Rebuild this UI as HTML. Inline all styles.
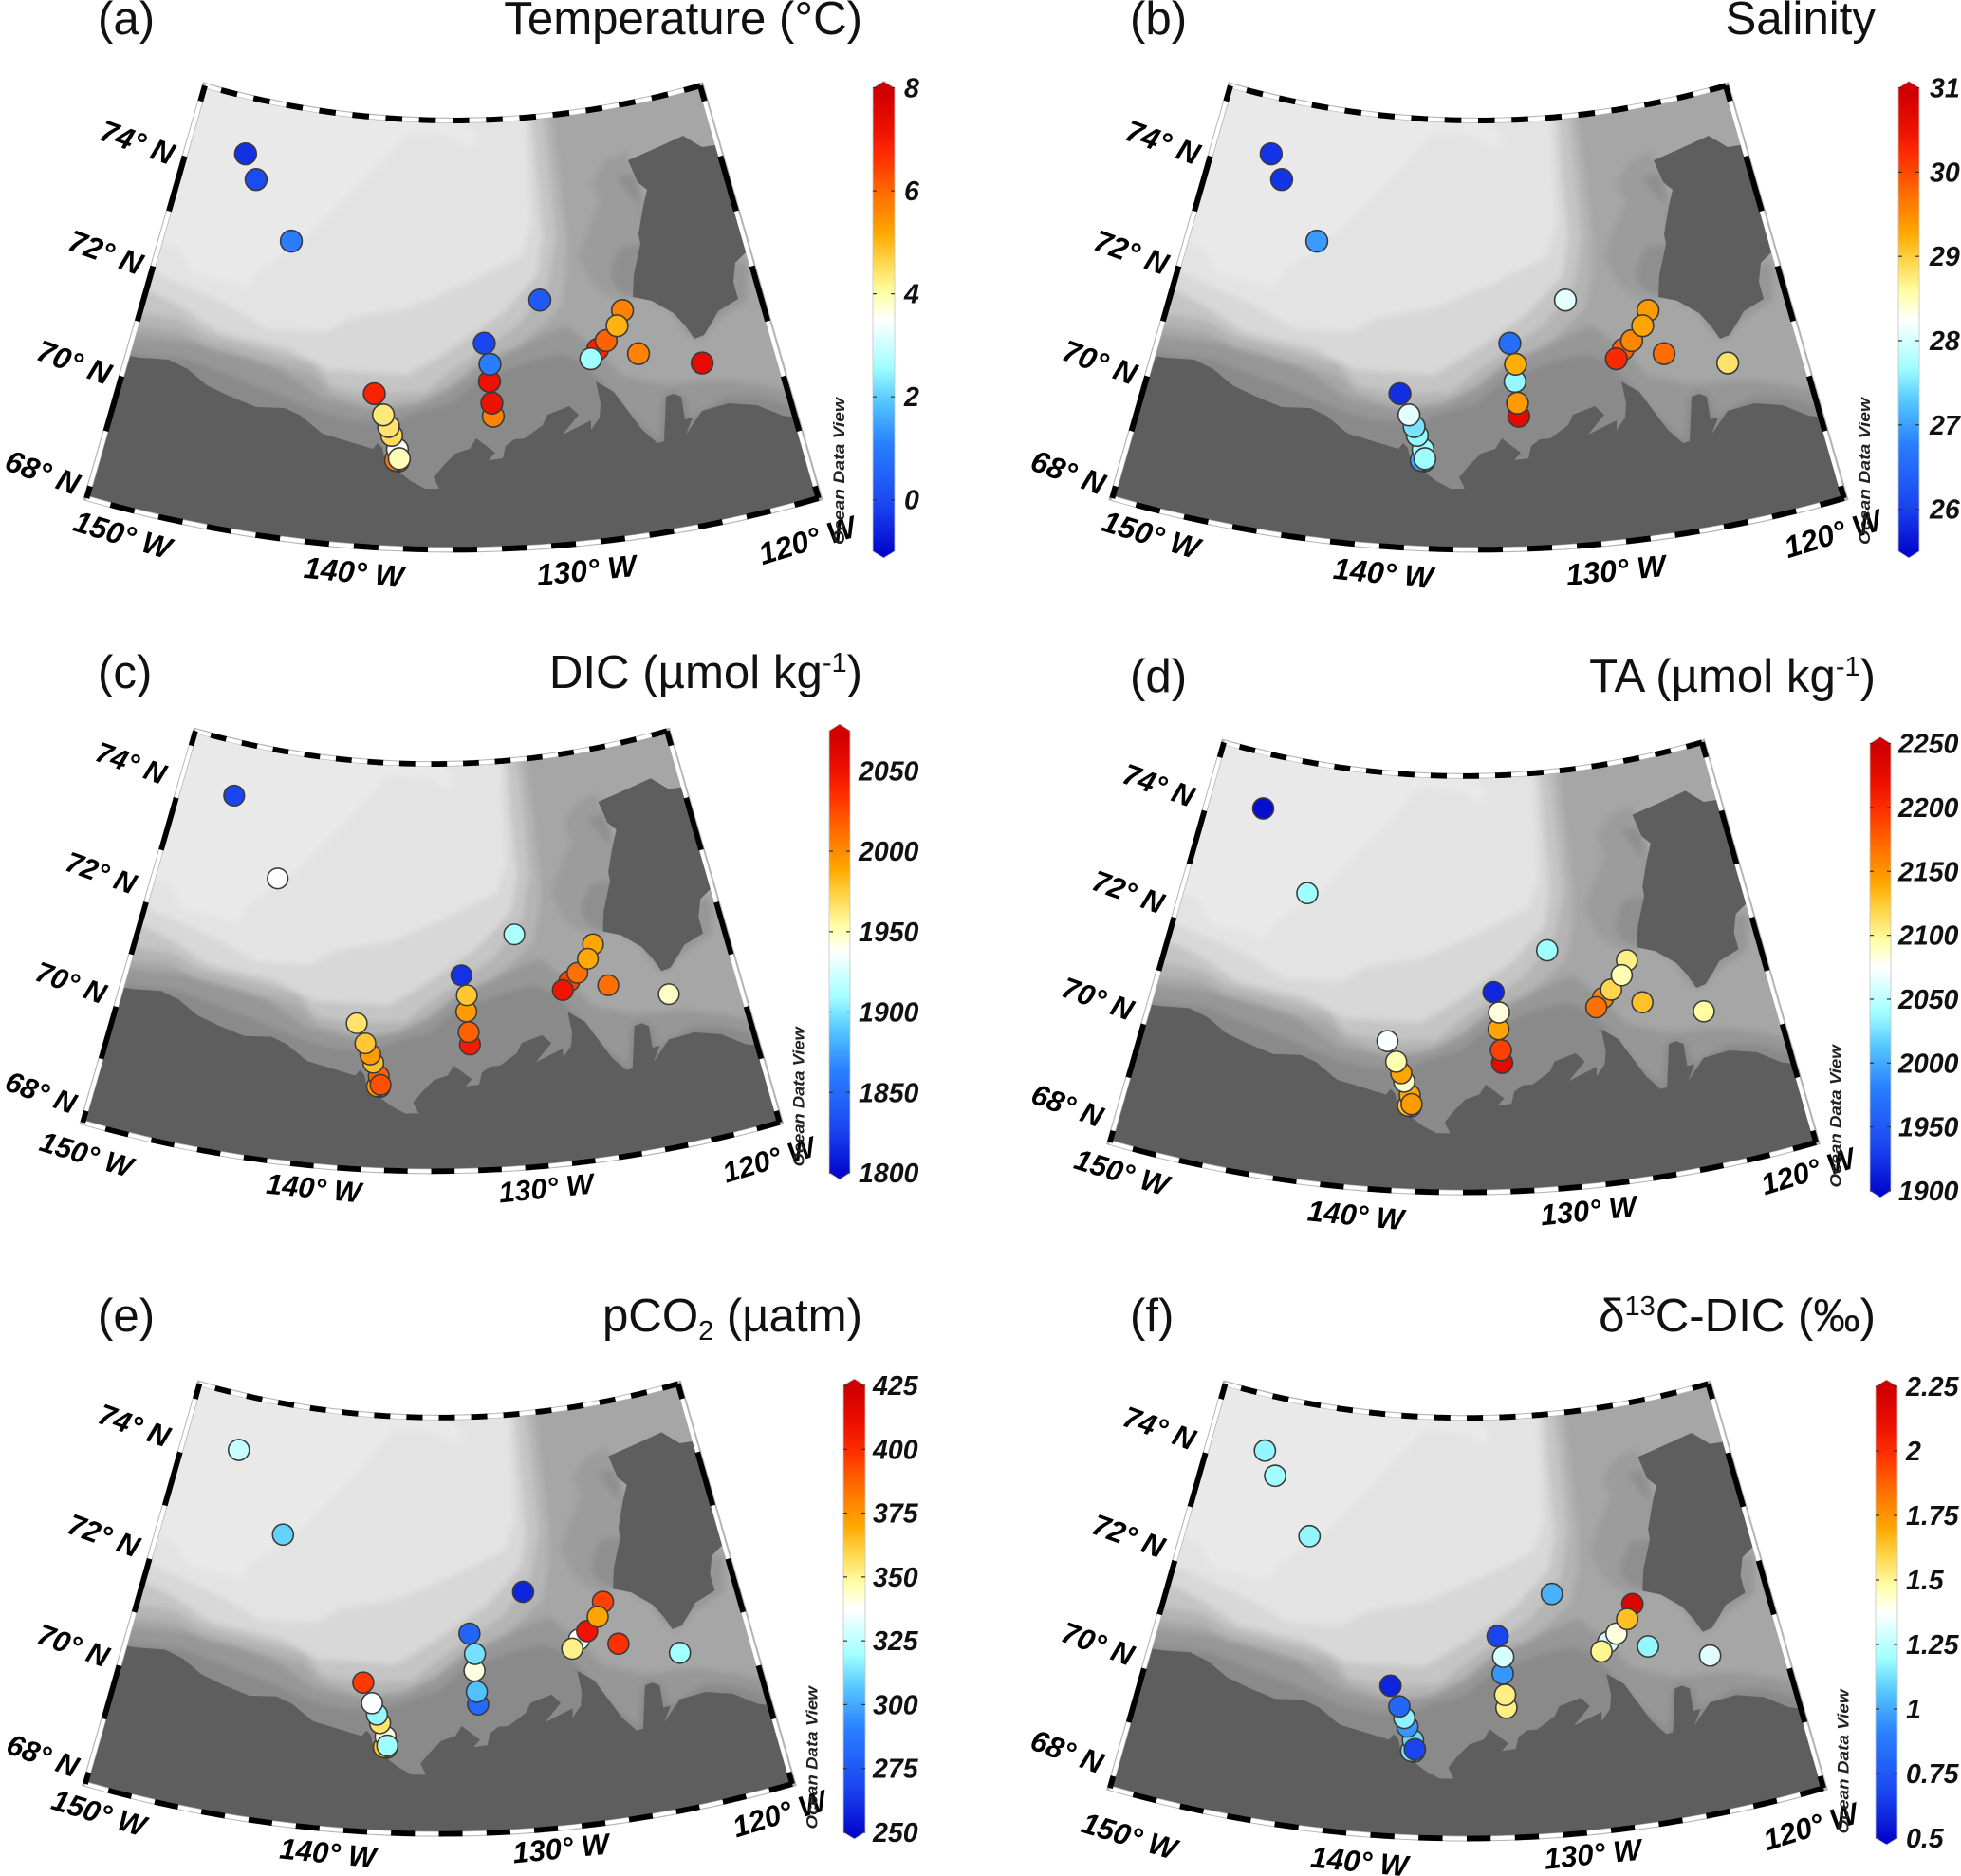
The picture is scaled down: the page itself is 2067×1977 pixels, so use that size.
<!DOCTYPE html>
<html lang="en">
<head>
<meta charset="utf-8">
<title>Surface properties in the Beaufort Sea</title>
<style>
html,body{margin:0;padding:0;background:#fff}
svg{display:block}
text{font-family:"Liberation Sans",sans-serif}
.title{font-size:49.2px;fill:#111}
.geo{font-size:32px;font-weight:bold;font-style:italic;fill:#000}
.tick{font-size:28.5px;font-weight:bold;font-style:italic;fill:#111}
.odv{font-size:17px;font-weight:bold;font-style:italic;fill:#222}
</style>
</head>
<body>
<svg id="figure" xmlns="http://www.w3.org/2000/svg" width="2067" height="1977" viewBox="0 0 2067 1977">
<defs>
  <clipPath id="sector-clip"><path d="M216,90 A947,947 0 0 0 739,90 L864,525 A1399,1399 0 0 1 91,525 Z"/></clipPath>
  <filter id="soften" x="0" y="0" width="1" height="1" filterUnits="objectBoundingBox"><feGaussianBlur stdDeviation="3.2"/></filter>
  <g id="basemap" clip-path="url(#sector-clip)">
    <g filter="url(#soften)">
      <rect x="40" y="40" width="890" height="610" fill="#8a8a8a"/>
      <polygon fill="#979797" points="100,368 197,378 280,410 340,435 372,443 410,445 445,433 475,425 505,400 540,387 560,380 590,373 610,380 630,397 650,420 668,440 695,463 698,420 708,412 722,418 727,440 765,418 800,418 850,432 900,440 900,60 100,60"/>
      <polygon fill="#a6a6a6" points="100,350 223,363 297,390 340,420 395,432 440,425 470,410 505,385 540,368 573,353 597,343 610,353 633,370 655,395 700,405 760,400 800,405 900,425 900,60 100,60"/>
      <polygon fill="#9c9c9c" points="660,160 637,170 623,193 632,213 620,240 610,270 623,297 640,312 667,317 700,250"/>
      <polygon fill="#8f8f8f" points="650,188 655,185 667,183 673,193 678,257 653,260 645,280 643,293 653,307 668,312 700,250"/>
      <polygon fill="#979797" points="687,317 707,328 720,347 730,357 740,357 753,340 767,330 787,317 788,287 785,275 775,277 730,300"/>
      <polygon fill="#b4b4b4" points="100,340 147,345 190,350 217,365 330,395 350,415 400,430 440,425 475,408 510,380 545,366 570,345 590,325 597,290 597,250 590,190 581,120 581,40 100,40"/>
      <polygon fill="#c5c5c5" points="100,327 147,330 190,337 217,353 330,383 350,407 396,415 449,413 470,395 547,342 578,300 586,250 580,190 572,120 572,40 100,40"/>
      <polygon fill="#d8d8d8" points="100,305 158,307 190,323 230,350 303,367 347,390 430,395 470,372 530,330 566,290 572,250 565,180 560,120 560,40 100,40"/>
      <polygon fill="#e3e3e3" points="100,275 163,287 243,323 283,347 343,350 370,335 430,325 490,300 550,270 560,235 555,150 552,40 100,40"/>
      <polygon fill="#e9e9e9" points="100,235 167,253 187,260 203,287 243,297 263,303 270,287 323,250 363,210 396,177 429,139 475,143 498,158 501,143 488,128 488,40 100,40"/>
    </g>
    <polygon fill="#5e5e5e" points="100,372 135,375 148,377 178,379 198,389 218,406 241,417 270,429 300,430 317,438 336,454 340,457 360,463 383,470 393,473 398,467 403,472 405,482 420,497 433,507 448,515 463,515 457,503 468,490 480,478 495,473 502,462 522,477 515,485 530,483 533,470 542,463 553,462 572,448 577,437 600,428 610,437 593,458 623,443 623,453 632,440 633,425 628,402 647,413 662,433 677,453 693,467 700,465 702,418 710,415 718,418 722,442 730,440 723,458 740,433 768,425 798,427 825,438 841,440 900,445 900,630 60,630 60,372"/>
    <polygon fill="#5e5e5e" points="662,169 687,158 720,143 740,155 753,153 800,150 800,262 787,265 775,277 773,297 778,315 757,328 752,337 742,353 732,357 722,343 710,330 687,317 667,313 668,290 675,257 673,247 678,217 682,200 672,192"/>
  </g>
  <linearGradient id="palette" x1="0" y1="1" x2="0" y2="0">
    <stop offset="0" stop-color="#0000c8"/><stop offset="0.11" stop-color="#1a45f0"/><stop offset="0.24" stop-color="#2a80ff"/><stop offset="0.33" stop-color="#55c8ff"/><stop offset="0.4" stop-color="#a0ffff"/><stop offset="0.5" stop-color="#ffffff"/><stop offset="0.555" stop-color="#ffffa8"/><stop offset="0.63" stop-color="#ffd040"/><stop offset="0.68" stop-color="#ffa800"/><stop offset="0.76" stop-color="#ff7000"/><stop offset="0.84" stop-color="#ff3000"/><stop offset="0.9" stop-color="#ee1000"/><stop offset="0.975" stop-color="#d00000"/><stop offset="1" stop-color="#d00000"/>
  </linearGradient>
</defs>

<g>
  <text class="title" x="103" y="36">(a)</text>
  <text class="title" x="909" y="36" text-anchor="end">Temperature (°C)</text>
  <text class="title" x="1191" y="36">(b)</text>
  <text class="title" x="1977" y="36" text-anchor="end">Salinity</text>
  <text class="title" x="103" y="725">(c)</text>
  <text class="title" x="909" y="725" text-anchor="end">DIC (µmol kg<tspan font-size="29" dy="-17">-1</tspan><tspan dy="17">)</tspan></text>
  <text class="title" x="1191" y="729">(d)</text>
  <text class="title" x="1977" y="729" text-anchor="end">TA (µmol kg<tspan font-size="29" dy="-17">-1</tspan><tspan dy="17">)</tspan></text>
  <text class="title" x="103" y="1403">(e)</text>
  <text class="title" x="909" y="1403" text-anchor="end">pCO<tspan font-size="29" dy="9">2</tspan><tspan dy="-9"> (µatm)</tspan></text>
  <text class="title" x="1191" y="1403">(f)</text>
  <text class="title" x="1977" y="1403" text-anchor="end">δ<tspan font-size="29" dy="-17">13</tspan><tspan dy="17">C-DIC (‰)</tspan></text>
</g>
</svg>

<script>
// Station coordinates (degrees)
const stationLon = [-146.74,-145.87,-143.43,-130.66,-133.48,-133.24,-133.29,-133.21,-133.17,-138.58,-138.11,-137.85,-137.69,-137.41,-137.31,-137.47,-137.34,-126.68,-127.05,-127.67,-128.12,-128.50,-126.25,-123.43];
const stationLat = [74.30,73.90,72.95,72.08,71.38,71.01,70.71,70.33,70.10,70.46,70.10,69.90,69.75,69.51,69.35,69.32,69.31,71.73,71.48,71.25,71.12,70.97,70.94,70.57];
const drawOrder = [0,1,2,3,4,6,5,8,7,16,15,13,14,12,11,10,9,17,20,19,18,21,22,23];

// Measured values per station (null = no sample)
const temperatureValues = [-0.3,0.1,1.1,0.4,0,1.1,7.1,7.1,5.6,6.8,4.3,4.4,4.5,3.5,3.9,5.8,5.8,5.6,5.0,6,6.8,2.6,5.6,7.3];
const salinityValues = [25.95,25.95,27.0,28.1,26.6,29.2,27.65,29.35,30.6,25.9,28.1,27.5,27.65,27.7,27.7,27.05,27.05,29.35,29.27,29.5,29.8,30.2,29.7,28.8];
const dicValues = [1830,null,1937,1913,1822,1976,1992,2014,2042,1965,1976,1992,1979,2014,2020,1992,1992,1988,1987,2009,2025,2045,2009,1948];
const taValues = [1907,null,2040,2040,1921,2082,2140,2187,2225,2073,2092,2140,2087,2140,2145,2127,2127,2103,2092,2117,2155,2166,2127,2096];
const pco2Values = [327,null,310,260,281,313,341,306,283,395,337,318,355,341,320,364,364,393,370,407,337,351,397,320];
const d13cValues = [1.18,1.2,1.18,1.03,0.69,1.3,0.97,1.52,1.52,0.6,0.82,1.17,0.97,1.11,0.69,1.13,1.13,2.16,1.64,1.41,1.3,1.5,1.18,1.32];

// Colour bar ranges and tick labels
const temperatureTicks = ["0","2","4","6","8"];
const salinityTicks = ["26","27","28","29","30","31"];
const dicTicks = ["1800","1850","1900","1950","2000","2050"];
const taTicks = ["1900","1950","2000","2050","2100","2150","2200","2250"];
const pco2Ticks = ["250","275","300","325","350","375","400","425"];
const d13cTicks = ["0.5","0.75","1","1.25","1.5","1.75","2","2.25"];
const latLabels = [74,72,70,68];
const lonLabels = [-150,-140,-130,-120];

// Palette used by the markers (matches the gradient in defs)
const paletteStops = [0,0.11,0.24,0.33,0.4,0.5,0.555,0.63,0.68,0.76,0.84,0.9,0.975,1];
const paletteColours = ["#0000c8","#1a45f0","#2a80ff","#55c8ff","#a0ffff","#ffffff","#ffffa8","#ffd040","#ffa800","#ff7000","#ff3000","#ee1000","#d00000","#d00000"];

const panels = [
  {id:"a",name:"temperature",values:temperatureValues,ticks:temperatureTicks,min:-1,max:8,tx:477,ty:90,sx:1,sy:1,barX:920,barW:23,barTop:92.6,barBot:581,labelX:953,latDy:0,latStretch:0,lonNudge:[[-3,-3],[0,-1],[0,-3],[-8,3]]},
  {id:"b",name:"salinity",values:salinityValues,ticks:salinityTicks,min:25.5,max:31,tx:1558,ty:90,sx:1,sy:1,barX:2001,barW:22,barTop:92.6,barBot:581,labelX:2034,latDy:0,latStretch:0,lonNudge:[[0,-3],[4,0],[4,-3],[-8,-4]]},
  {id:"c",name:"dic",values:dicValues,ticks:dicTicks,min:1800,max:2075,tx:454.5,ty:770,sx:0.952,sy:0.949,barX:874,barW:22,barTop:770,barBot:1236,labelX:905,latDy:-15,latStretch:-3,lonNudge:[[-37,-6],[-26,-6],[-14,-6],[-8,0]]},
  {id:"d",name:"ta",values:taValues,ticks:taTicks,min:1900,max:2250,tx:1542,ty:782,sx:0.965,sy:0.97,barX:1971,barW:22,barTop:783.6,barBot:1255,labelX:2001,latDy:-13,latStretch:0,lonNudge:[[-28,-9],[-13,0],[-4,-5],[-5,-10]]},
  {id:"e",name:"pco2",values:pco2Values,ticks:pco2Ticks,min:250,max:425,tx:462.5,ty:1458,sx:0.966,sy:0.97,barX:889,barW:23,barTop:1460,barBot:1931,labelX:920,latDy:-9,latStretch:-1.8,lonNudge:[[-26,-10],[-17,-4],[-8,-9],[-10,-9]]},
  {id:"f",name:"d13c",values:d13cValues,ticks:d13cTicks,min:0.5,max:2.25,tx:1546,ty:1458,sx:0.975,sy:0.98,barX:1977,barW:23,barTop:1461,barBot:1937,labelX:2009,latDy:-12,latStretch:0,lonNudge:[[-20,10],[-12,0],[-5,-8],[-10,0]]}
];

const NS = "http://www.w3.org/2000/svg";
const figure = document.getElementById("figure");

function make(tag, parent, attrs) {
  const node = document.createElementNS(NS, tag);
  for (const key in attrs) node.setAttribute(key, attrs[key]);
  parent.appendChild(node);
  return node;
}

// Conic map projection in panel-a base coordinates
const apexX = 477, apexY = -820, radiusTop = 947, pxPerLat = 60.3, latTop = 75.28, latBottom = 67.78;
function projRadius(lat) { return radiusTop + (latTop - lat) * pxPerLat; }
function projAngle(lon) { return (lon + 135) * (16 / 15) * Math.PI / 180; }
function projX(lon, lat) { return apexX + projRadius(lat) * Math.sin(projAngle(lon)); }
function projY(lon, lat) { return apexY + projRadius(lat) * Math.cos(projAngle(lon)); }

function hexToRgb(hex) {
  return [parseInt(hex.slice(1,3),16), parseInt(hex.slice(3,5),16), parseInt(hex.slice(5,7),16)];
}
function colourFor(value, min, max) {
  const f = Math.max(0, Math.min(1, (value - min) / (max - min)));
  let i = 0;
  while (i < paletteStops.length - 2 && f > paletteStops[i + 1]) i++;
  const t = (f - paletteStops[i]) / (paletteStops[i + 1] - paletteStops[i]);
  const a = hexToRgb(paletteColours[i]), b = hexToRgb(paletteColours[i + 1]);
  return "rgb(" + a.map(function (c, k) { return Math.round(c + (b[k] - c) * t); }).join(",") + ")";
}

function drawFrame(parent) {
  const outline = make("path", parent, {d:"M216,90 A947,947 0 0 0 739,90 L864,525 A1399,1399 0 0 1 91,525 Z", fill:"none", stroke:"#b4b4b4", "stroke-width":"6"});
  
  
  // meridian-wise (top & bottom) checker segments, one per degree of longitude
  [latTop, latBottom].forEach(function (lat) {
    for (let lon = -150; lon < -120; lon++) {
      const steps = 4;
      let d = "";
      for (let s = 0; s <= steps; s++) {
        const l = lon + s / steps;
        d += (s ? "L" : "M") + projX(l, lat).toFixed(1) + "," + projY(l, lat).toFixed(1);
      }
      const odd = lon % 2 !== 0;
      const seg = make("path", parent, {d:d, fill:"none", stroke:odd ? "#000" : "#fff", "stroke-width":odd ? "6" : "4.2"});
      
      
    }
  });
  // parallel-wise (side) checker segments, one per degree of latitude
  [-150, -120].forEach(function (lon) {
    for (let base = 67; base <= 75; base++) {
      const a = Math.max(base, latBottom), b = Math.min(base + 1, latTop);
      const odd = base % 2 !== 0;
      const seg = make("line", parent, {x1:projX(lon,a), y1:projY(lon,a), x2:projX(lon,b), y2:projY(lon,b), stroke:odd ? "#000" : "#fff", "stroke-width":odd ? "6" : "4.2"});
      
      
    }
  });
}

function drawGeoLabels(parent, panel) {
  latLabels.forEach(function (lat) {
    const x = projX(-150, lat) - 50, y = projY(-150, lat) - 15 + panel.latDy + (lat - 71) * panel.latStretch;
    const t = make("text", parent, {"class":"geo", "text-anchor":"middle", transform:"translate(" + x + "," + y + ") rotate(20)", y:"11.5"});
    t.textContent = lat + "° N";
    
    
  });
  lonLabels.forEach(function (lon, k) {
    const u = Math.abs(lon + 135) / 15;
    const x = projX(lon, latBottom) + 41 - 1.5 * (lon + 150) + panel.lonNudge[k][0];
    const y = projY(lon, latBottom) + 29 + 12 * u * u + panel.lonNudge[k][1];
    const rot = -(lon + 135) * 1.13;
    const t = make("text", parent, {"class":"geo", "text-anchor":"middle", transform:"translate(" + x + "," + y + ") rotate(" + rot + ")", y:"11.5"});
    t.textContent = (-lon) + "° W";
    
    
  });
}

function drawStations(parent, panel) {
  drawOrder.forEach(function (i) {
    const v = panel.values[i];
    if (v === null) return;
    const c = make("circle", parent, {cx:projX(stationLon[i], stationLat[i]), cy:projY(stationLon[i], stationLat[i]), r:"11.4", fill:colourFor(v, panel.min, panel.max), stroke:"#3a3a3a", "stroke-width":"1.6"});
    
    
  });
}

function drawColourbar(parent, panel) {
  const x = panel.barX, w = panel.barW, t = panel.barTop, b = panel.barBot;
  const yOf = function (v) { return b - (v - panel.min) / (panel.max - panel.min) * (b - t); };
  const shape = make("polygon", parent, {points:[x+","+t, (x+w/2)+","+(t-7), (x+w)+","+t, (x+w)+","+b, (x+w/2)+","+(b+7), x+","+b].join(" "), fill:"url(#palette)", stroke:"#c4c4c4", "stroke-width":"0.8"});
  
  
  panel.ticks.forEach(function (label) {
    const y = yOf(parseFloat(label));
    const left = make("line", parent, {x1:x, x2:x+4, y1:y, y2:y, stroke:"#333", "stroke-width":"1.2"});
    
    
    const right = make("line", parent, {x1:x+w-4, x2:x+w, y1:y, y2:y, stroke:"#333", "stroke-width":"1.2"});
    
    
    const txt = make("text", parent, {"class":"tick", x:panel.labelX, y:y + 10});
    txt.textContent = label;
    
    
  });
}

panels.forEach(function (panel) {
  const g = make("g", figure, {transform:"translate(" + panel.tx + "," + panel.ty + ") scale(" + panel.sx + "," + panel.sy + ") translate(-477,-90)"});
  
  
  const base = make("use", g, {href:"#basemap"});
  
  
  drawFrame(g);
  drawStations(g, panel);
  drawGeoLabels(g, panel);
  const odv = make("text", g, {"class":"odv", transform:"translate(890,574) rotate(-90)", textLength:"155", lengthAdjust:"spacingAndGlyphs"});
  odv.textContent = "Ocean Data View";
  
  
  const bar = make("g", figure, {});
  
  
  drawColourbar(bar, panel);
});
</script>
</body>
</html>
